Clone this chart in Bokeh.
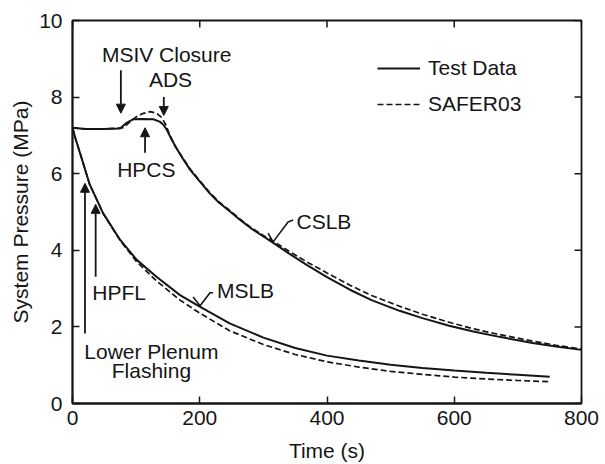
from bokeh.plotting import figure
from bokeh.models import (Arrow, NormalHead, Label, Legend, LegendItem, Range1d, FixedTicker)
from bokeh.embed import file_html
from bokeh.resources import INLINE

# ---- data ----
t_cslb_test = [0, 20, 50, 75, 85, 95, 110, 127, 137, 143, 148, 155, 163, 172, 185, 200, 215, 230,
               250, 263, 280, 300, 315, 340, 368, 400, 436, 470, 514, 550, 592, 630, 671, 723, 760, 800]
p_cslb_test = [7.2, 7.17, 7.17, 7.18, 7.33, 7.42, 7.43, 7.42, 7.36, 7.28, 7.15, 6.92, 6.68, 6.43, 6.1,
               5.8, 5.5, 5.25, 4.98, 4.8, 4.58, 4.36, 4.2, 3.92, 3.62, 3.3, 2.97, 2.70, 2.42, 2.23, 2.03,
               1.88, 1.74, 1.58, 1.49, 1.40]

t_cslb_safer = [0, 20, 50, 80, 90, 100, 110, 122, 132, 140, 146, 152, 160, 172, 185, 200, 215, 230,
                250, 263, 280, 300, 315, 340, 368, 400, 436, 470, 514, 550, 592, 630, 671, 723, 760, 800]
p_cslb_safer = [7.2, 7.17, 7.17, 7.2, 7.35, 7.48, 7.57, 7.62, 7.58, 7.47, 7.3, 7.05, 6.75, 6.45, 6.12,
                5.82, 5.52, 5.27, 5.0, 4.82, 4.6, 4.39, 4.24, 3.98, 3.70, 3.41, 3.09, 2.82, 2.54, 2.33,
                2.12, 1.95, 1.80, 1.63, 1.52, 1.42]

t_mslb_test = [0, 5, 12, 27, 48, 75, 101, 132, 169, 200, 247, 300, 350, 400, 450, 500, 550, 600, 650, 700, 750]
p_mslb_test = [7.2, 6.9, 6.53, 5.72, 4.97, 4.27, 3.75, 3.31, 2.83, 2.53, 2.09, 1.72, 1.45, 1.25, 1.12,
               1.01, 0.93, 0.86, 0.80, 0.75, 0.70]

t_mslb_safer = [0, 5, 12, 27, 48, 75, 101, 132, 169, 200, 247, 300, 350, 400, 450, 500, 550, 600, 650, 700, 750]
p_mslb_safer = [7.2, 6.9, 6.53, 5.72, 4.97, 4.25, 3.70, 3.20, 2.70, 2.36, 1.90, 1.54, 1.28, 1.09, 0.95,
                0.84, 0.76, 0.69, 0.64, 0.60, 0.57]

x_ticks = [0, 200, 400, 600, 800]
y_ticks = [0, 2, 4, 6, 8, 10]

# annotation texts: (text, t, P, align)
notes = [
    ("MSIV Closure", 148, 9.12, "center"),
    ("ADS", 154, 8.45, "center"),
    ("HPCS", 116, 6.12, "center"),
    ("CSLB", 352, 4.76, "left"),
    ("MSLB", 227, 2.94, "left"),
    ("HPFL", 31, 2.91, "left"),
    ("Lower Plenum", 124, 1.37, "center"),
    ("Flashing", 124, 0.87, "center"),
]
# arrows: (t, P_tail, P_tip)
arrows = [(19.6, 1.83, 5.75), (36.4, 3.31, 5.2), (76, 8.7, 7.58), (143.5, 8.0, 7.52), (114, 6.55, 7.2)]
# leader check marks
cslb_tick_t = [307.4, 315.3, 338.8, 346.7]
cslb_tick_p = [4.45, 4.22, 4.74, 4.79]
mslb_tick_t = [189.5, 200.5, 216.2, 221.0]
mslb_tick_p = [2.78, 2.55, 2.89, 2.89]

FONT = "Liberation Sans"
INK = "#151515"
FS = "21px"
FRAME_W, FRAME_H = 509, 383
TICK_PX = 7

p = figure(frame_width=FRAME_W, frame_height=FRAME_H, x_range=Range1d(0, 800), y_range=Range1d(0, 10),
           output_backend="svg", toolbar_location=None,
           min_border_left=72, min_border_top=20, min_border_right=24, min_border_bottom=61)
p.xgrid.visible = False
p.ygrid.visible = False
p.outline_line_color = INK
p.outline_line_width = 1.8

def style_axis(ax, ticks):
    ax.ticker = FixedTicker(ticks=ticks)
    ax.axis_line_color = INK
    ax.axis_line_width = 1.8
    ax.major_tick_line_color = INK
    ax.major_tick_line_width = 1.5
    ax.major_tick_in = TICK_PX
    ax.major_tick_out = 0
    ax.minor_tick_line_color = None
    ax.major_label_text_font = FONT
    ax.major_label_text_color = INK
    ax.major_label_text_font_size = FS
    ax.axis_label_text_font = FONT
    ax.axis_label_text_font_style = "normal"
    ax.axis_label_text_font_size = FS
    ax.axis_label_text_color = INK

style_axis(p.xaxis[0], x_ticks)
style_axis(p.yaxis[0], y_ticks)
p.xaxis[0].axis_label = "Time (s)"
p.xaxis[0].major_label_standoff = 7
p.xaxis[0].axis_label_standoff = 11
p.yaxis[0].axis_label = "System Pressure (MPa)"
p.yaxis[0].major_label_standoff = 10
p.yaxis[0].axis_label_standoff = 4

# inward ticks on the top and right frame edges
dx = TICK_PX * 800 / FRAME_W
dy = TICK_PX * 10 / FRAME_H
p.segment(x0=x_ticks, y0=[10] * len(x_ticks), x1=x_ticks, y1=[10 - dy] * len(x_ticks),
          line_color=INK, line_width=1.5)
p.segment(x0=[800] * len(y_ticks), y0=y_ticks, x1=[800 - dx] * len(y_ticks), y1=y_ticks,
          line_color=INK, line_width=1.5)

lw = 2.0
r_ct = p.line(t_cslb_test, p_cslb_test, line_color=INK, line_width=lw)
r_cs = p.line(t_cslb_safer, p_cslb_safer, line_color=INK, line_width=1.7, line_dash="6 3")
p.line(t_mslb_test, p_mslb_test, line_color=INK, line_width=lw)
p.line(t_mslb_safer, p_mslb_safer, line_color=INK, line_width=1.7, line_dash="6 3")

for txt, tx, ty, al in notes:
    p.add_layout(Label(x=tx, y=ty, text=txt, text_align=al, text_baseline="middle",
                       text_font=FONT, text_font_size=FS, text_color=INK))

for ax_, tail, tip in arrows:
    p.add_layout(Arrow(x_start=ax_, y_start=tail, x_end=ax_, y_end=tip, line_width=1.8,
                       line_color=INK,
                       end=NormalHead(size=9, fill_color=INK, line_color=INK)))

p.line(cslb_tick_t, cslb_tick_p, line_color=INK, line_width=1.6)
p.line(mslb_tick_t, mslb_tick_p, line_color=INK, line_width=1.6)

legend = Legend(items=[LegendItem(label="Test Data", renderers=[r_ct]),
                       LegendItem(label="SAFER03", renderers=[r_cs])],
                location=(305, 287), border_line_alpha=0, background_fill_alpha=0,
                padding=0, margin=0, glyph_width=43, glyph_height=20, label_standoff=8,
                spacing=12, label_text_font=FONT, label_text_font_size=FS,
                label_text_color=INK)
p.add_layout(legend)

open("out.html", "w").write(file_html(p, INLINE))
